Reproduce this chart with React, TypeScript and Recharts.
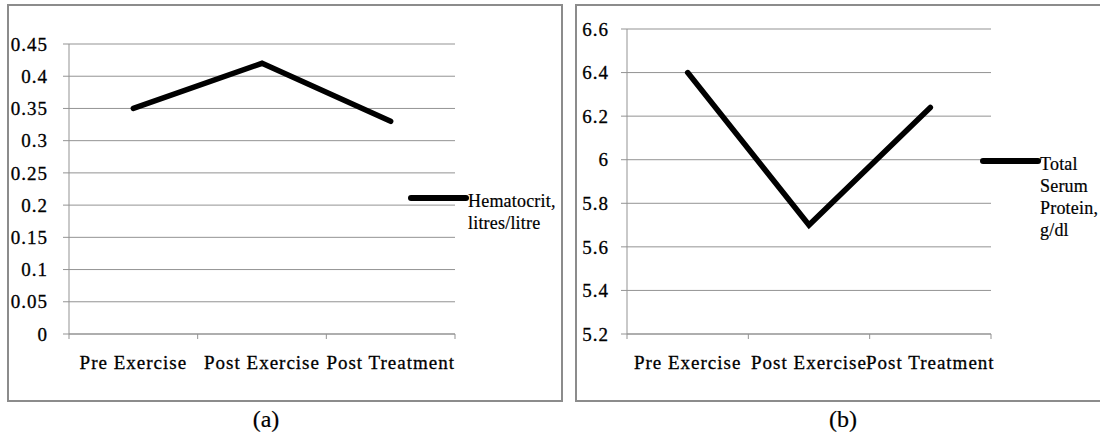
import { LineChart, Line, XAxis, YAxis, CartesianGrid, Legend } from "recharts";

// Values
const categories = ["Pre Exercise", "Post Exercise", "Post Treatment"];
const hematocrit = [0.35, 0.42, 0.33];
const serumProtein = [6.4, 5.7, 6.24];
const hematocritTicks = [0, 0.05, 0.1, 0.15, 0.2, 0.25, 0.3, 0.35, 0.4, 0.45];
const proteinTicks = [5.2, 5.4, 5.6, 5.8, 6, 6.2, 6.4, 6.6];
const hematocritLegend = ["Hematocrit,", "litres/litre"];
const proteinLegend = ["Total", "Serum", "Protein,", "g/dl"];
const captions = ["(a)", "(b)"];

const FONT = '"Liberation Serif", "Times New Roman", serif';
const GRID = "#939393";
const BORDER = "#8c8c8c";

const hematocritData = categories.map((c, i) => ({ name: c, value: hematocrit[i] }));
const proteinData = categories.map((c, i) => ({ name: c, value: serumProtein[i] }));

/** Excel-style category tick: label at band centre, tick marks on band edges */
function CategoryTick({ x, y, payload, index, band, count }: any) {
  const left = x - band / 2;
  return (
    <g>
      <line x1={left} y1={y} x2={left} y2={y + 5} stroke={GRID} />
      {index === count - 1 && (
        <line x1={left + band} y1={y} x2={left + band} y2={y + 5} stroke={GRID} />
      )}
      <text
        x={x}
        y={y + 35}
        textAnchor="middle"
        fontFamily={FONT}
        style={{ fontFamily: FONT }}
        fontSize={19}
        letterSpacing={1}
        fill="#000"
        stroke="#000"
        strokeWidth={0.3}
      >
        {payload.value}
      </text>
    </g>
  );
}

function ValueTick({ x, y, payload }: any) {
  return (
    <text
      x={x}
      y={y}
      dy="0.35em"
      textAnchor="end"
      fontFamily={FONT}
      style={{ fontFamily: FONT }}
      fontSize={19}
      letterSpacing={1}
      fill="#000"
      stroke="#000"
      strokeWidth={0.3}
    >
      {String(payload.value)}
    </text>
  );
}

function LegendBlock({ payload, lines }: any) {
  const color = payload?.[0]?.color ?? "#000";
  return (
    <svg width={160} height={100} style={{ overflow: "visible", display: "block" }}>
      <line x1={3} y1={10} x2={58} y2={10} stroke={color} strokeWidth={6} strokeLinecap="round" />
      {lines.map((t: string, i: number) => (
        <text
          key={t}
          x={60}
          y={19 + i * 22}
          fontFamily={FONT}
          fontSize={18}
          letterSpacing={0.2}
          fill="#000"
          stroke="#000"
          strokeWidth={0.2}
        >
          {t}
        </text>
      ))}
    </svg>
  );
}

function Panel({ left, width, height, data, ticks, margin, yWidth, tickMargin, legendLines, legendPos, name }: any) {
  const plotW = width - margin.left - margin.right - yWidth;
  const band = plotW / categories.length;
  return (
    <div style={{ position: "absolute", left, top: 0 }}>
      <LineChart width={width} height={height} data={data} margin={margin}>
        <CartesianGrid vertical={false} stroke={GRID} />
        <XAxis
          dataKey="name"
          scale="band"
          interval={0}
          height={30}
          tickSize={0}
          tickMargin={0}
          stroke={GRID}
          tick={<CategoryTick band={band} count={categories.length} />}
        />
        <YAxis
          domain={[ticks[0], ticks[ticks.length - 1]]}
          ticks={ticks}
          interval={0}
          width={yWidth}
          tickSize={6}
          tickMargin={tickMargin}
          stroke={GRID}
          tick={<ValueTick />}
        />
        <Legend
          layout="horizontal"
          align="center"
          verticalAlign="middle"
          wrapperStyle={{ left: legendPos.left, top: legendPos.top, width: 160 }}
          content={(p: any) => <LegendBlock payload={p.payload} lines={legendLines} />}
        />
        <Line
          type="linear"
          dataKey="value"
          name={name}
          stroke="#000"
          strokeWidth={5.5}
          strokeLinecap="round"
          dot={false}
          activeDot={false}
          isAnimationActive={false}
        />
      </LineChart>
    </div>
  );
}

export default function App() {
  return (
    <div style={{ position: "absolute", left: 0, top: 0, width: 1100, height: 436, overflow: "hidden", background: "#fff" }}>
      {/* panel frames */}
      <div style={{ position: "absolute", left: 7, top: 4, width: 556, height: 398, border: `2px solid ${BORDER}`, boxSizing: "border-box" }} />
      <div style={{ position: "absolute", left: 575, top: 4, width: 540, height: 398, border: `2px solid ${BORDER}`, boxSizing: "border-box" }} />

      <Panel
        left={0}
        width={563}
        height={402}
        data={hematocritData}
        ticks={hematocritTicks}
        margin={{ top: 44, right: 108, bottom: 38, left: 9 }}
        yWidth={60}
        tickMargin={15}
        legendLines={hematocritLegend}
        legendPos={{ left: 408, top: 188 }}
        name="Hematocrit, litres/litre"
      />
      <Panel
        left={575}
        width={525}
        height={402}
        data={proteinData}
        ticks={proteinTicks}
        margin={{ top: 29, right: 109, bottom: 38, left: 7 }}
        yWidth={45}
        tickMargin={12}
        legendLines={proteinLegend}
        legendPos={{ left: 405, top: 151 }}
        name="Total Serum Protein, g/dl"
      />

      <svg width={1100} height={436} style={{ position: "absolute", left: 0, top: 0, pointerEvents: "none" }}>
        <text x={266} y={427} textAnchor="middle" fontFamily={FONT} fontSize={24} fill="#000" stroke="#000" strokeWidth={0.2}>{captions[0]}</text>
        <text x={843} y={427} textAnchor="middle" fontFamily={FONT} fontSize={24} fill="#000" stroke="#000" strokeWidth={0.2}>{captions[1]}</text>
      </svg>
    </div>
  );
}
